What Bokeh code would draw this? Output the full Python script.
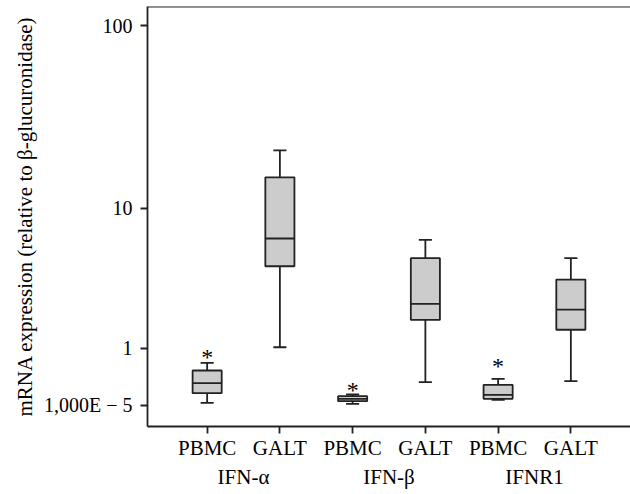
from bokeh.plotting import figure
from bokeh.models import FactorRange, Range1d, FixedTicker, Span, ColumnDataSource
from bokeh.core.properties import value
from bokeh.embed import file_html
from bokeh.resources import INLINE

# ---- data ----
genes = ["IFN-α", "IFN-α", "IFN-β", "IFN-β", "IFNR1", "IFNR1"]
tissues = ["PBMC", "GALT", "PBMC", "GALT", "PBMC", "GALT"]
whisker_low = [0.033, 1.03, 0.021, 0.327, 0.072, 0.344]
q1 = [0.161, 4.43, 0.054, 1.83, 0.085, 1.51]
median = [0.311, 6.61, 0.085, 2.44, 0.139, 2.21]
q3 = [0.530, 15.0, 0.120, 4.99, 0.286, 3.62]
whisker_high = [0.680, 21.2, 0.143, 6.49, 0.383, 4.99]

outlier_genes = ["IFN-α", "IFN-β", "IFNR1"]
outlier_tissues = ["PBMC", "PBMC", "PBMC"]
outlier_values = [0.888, 0.275, 0.692]

tick_values = [0.00001, 1, 10, 100]
tick_labels = ["1,000E − 5", "1", "10", "100"]

# axis maps log10(value + 1)
OFFSET = 1.0
y_bottom, y_top = 0.7747, 127.6

FONT = "Liberation Serif, Times New Roman, serif"
LINE = "#222222"

factors = list(zip(genes, tissues))
x_range = FactorRange(*factors, group_padding=0, factor_padding=0,
                      range_padding=0.32, range_padding_units="absolute")

p = figure(width=630, height=494, x_range=x_range, y_axis_type="log",
           y_range=Range1d(y_bottom, y_top), output_backend="svg",
           toolbar_location=None, min_border_left=147, min_border_right=0,
           min_border_top=6, min_border_bottom=68, outline_line_color=None)
p.grid.visible = False
p.background_fill_color = "white"
p.border_fill_color = "white"

def sh(vals):
    return [v + OFFSET for v in vals]

src = ColumnDataSource(dict(
    x=factors,
    lo=sh(whisker_low), q1=sh(q1), med=sh(median), q3=sh(q3), hi=sh(whisker_high),
    capl=[(g, t, -0.09) for g, t in factors], capr=[(g, t, 0.09) for g, t in factors],
    boxl=[(g, t, -0.2) for g, t in factors], boxr=[(g, t, 0.2) for g, t in factors],
))

LW = 1.8
# whiskers
p.segment(x0="x", y0="lo", x1="x", y1="q1", source=src, line_color=LINE, line_width=LW)
p.segment(x0="x", y0="q3", x1="x", y1="hi", source=src, line_color=LINE, line_width=LW)
p.segment(x0="capl", y0="lo", x1="capr", y1="lo", source=src, line_color=LINE, line_width=LW)
p.segment(x0="capl", y0="hi", x1="capr", y1="hi", source=src, line_color=LINE, line_width=LW)
# boxes
p.vbar(x="x", width=0.4, bottom="q1", top="q3", source=src, fill_color="#cccccc",
       line_color=LINE, line_width=LW)
# medians
p.segment(x0="boxl", y0="med", x1="boxr", y1="med", source=src, line_color=LINE, line_width=LW)

# outliers (asterisks)
osrc = ColumnDataSource(dict(x=list(zip(outlier_genes, outlier_tissues)), y=sh(outlier_values),
                             t=["*"] * len(outlier_values)))
p.text(x="x", y="y", text="t", source=osrc, text_font=value(FONT), text_font_size="24px",
       text_align="center", text_baseline="middle", y_offset=4, text_color="black")

# top frame line
p.add_layout(Span(location=y_top, dimension="width", line_color=LINE, line_width=LW))

# y axis
ya = p.yaxis[0]
ya.ticker = FixedTicker(ticks=[v + OFFSET for v in tick_values])
ya.major_label_overrides = {v + OFFSET: lab for v, lab in zip(tick_values, tick_labels)}
ya.minor_tick_line_color = None
ya.axis_label = "mRNA expression (relative to β-glucuronidase)"

xa = p.xaxis[0]
for ax in (xa, ya):
    ax.axis_line_color = LINE
    ax.axis_line_width = LW
    ax.major_tick_line_color = LINE
    ax.major_tick_line_width = LW
    ax.major_tick_in = 0
    ax.major_tick_out = 7
    ax.major_label_text_font = FONT
    ax.major_label_text_color = "black"
    ax.axis_label_text_font = FONT
    ax.axis_label_text_font_style = "normal"
    ax.axis_label_text_color = "black"

ya.major_label_text_font_size = "20px"
ya.axis_label_text_font_size = "21px"
ya.major_label_standoff = 8
ya.axis_label_standoff = 4

xa.major_label_text_font_size = "21px"
xa.major_label_standoff = 2
xa.group_text_font = FONT
xa.group_text_font_size = "21px"
xa.group_text_font_style = "normal"
xa.group_text_color = "black"
xa.separator_line_color = None

open("out.html", "w").write(file_html(p, INLINE))
